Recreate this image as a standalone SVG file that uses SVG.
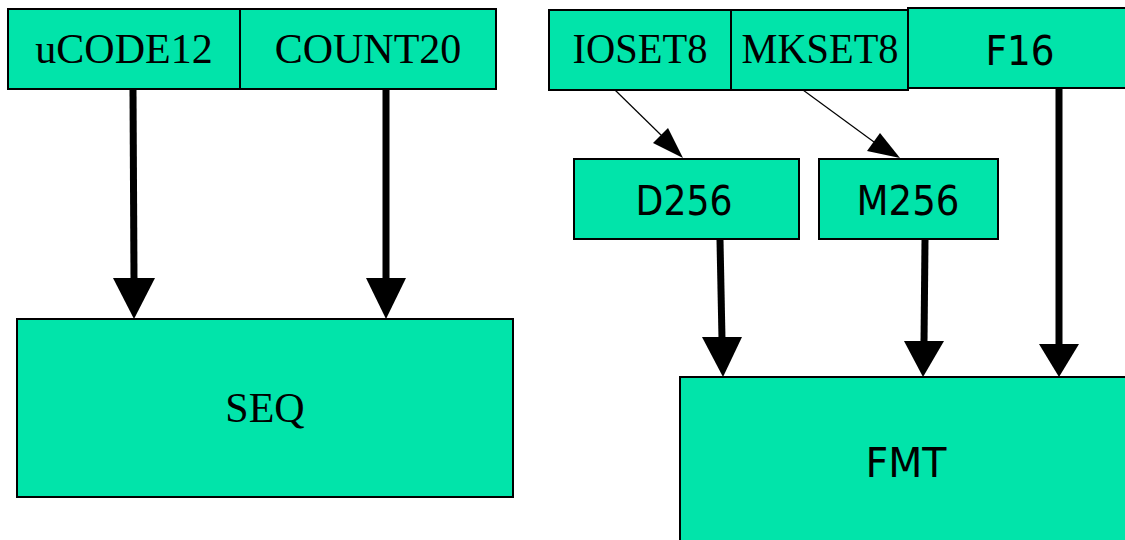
<svg xmlns="http://www.w3.org/2000/svg" width="1125" height="540" viewBox="0 0 1125 540">
<style>
.box{fill:#01E4AA;stroke:#000;stroke-width:2}
.serif{font-family:"Liberation Serif","Times New Roman",serif;font-size:42px;fill:#000;text-anchor:middle}
.sans{font-family:"DejaVu Sans",Verdana,sans-serif;font-size:41px;fill:#000;text-anchor:middle}
.thick{stroke:#000;stroke-width:7;fill:none}
.thin{stroke:#000;stroke-width:1.2;fill:none}
.head{fill:#000;stroke:none}
</style>
<rect width="1125" height="540" fill="#fff"/>
<g id="uCODE12"><rect class="box" x="8" y="9" width="232" height="80"/><text class="serif" x="124" y="63">uCODE12</text></g>
<g id="COUNT20"><rect class="box" x="240" y="9" width="256" height="80"/><text class="serif" x="368" y="63">COUNT20</text></g>
<g id="SEQ"><rect class="box" x="17" y="319" width="496" height="178"/><text class="serif" x="265" y="422">SEQ</text></g>
<g id="IOSET8"><rect class="box" x="549" y="10" width="182" height="80"/><text class="serif" x="640" y="63" textLength="135" lengthAdjust="spacingAndGlyphs">IOSET8</text></g>
<g id="MKSET8"><rect class="box" x="731" y="10" width="177" height="80"/><text class="serif" x="820" y="63" textLength="157" lengthAdjust="spacingAndGlyphs">MKSET8</text></g>
<g id="F16"><rect class="box" x="908" y="8" width="230" height="80"/><text class="sans" x="1020" y="65" textLength="69" lengthAdjust="spacingAndGlyphs">F16</text></g>
<g id="D256"><rect class="box" x="574" y="159" width="225" height="80"/><text class="sans" x="684" y="215" textLength="97" lengthAdjust="spacingAndGlyphs">D256</text></g>
<g id="M256"><rect class="box" x="819" y="159" width="179" height="80"/><text class="sans" x="908" y="215" textLength="103" lengthAdjust="spacingAndGlyphs">M256</text></g>
<g id="FMT"><rect class="box" x="680" y="377" width="460" height="180"/><text class="sans" x="906" y="477" textLength="81" lengthAdjust="spacingAndGlyphs">FMT</text></g>
<g id="connectors">
<path class="thick" d="M133 90 L134 280"/><polygon class="head" points="113,278 155,278 134,319"/>
<path class="thick" d="M386 90 L386 280"/><polygon class="head" points="366,278 406,278 386,319"/>
<path class="thick" d="M720 240 L722 339"/><polygon class="head" points="702,337 742,337 723,377"/>
<path class="thick" d="M925 240 L924 343"/><polygon class="head" points="904,341 944,341 923,377"/>
<path class="thick" d="M1059 89 L1059 346"/><polygon class="head" points="1039,344 1079,344 1059,377"/>
<path class="thin" d="M615 90 L662 136"/><polygon class="head" points="653,143 668,128 683,158"/>
<path class="thin" d="M803 90 L874 142"/><polygon class="head" points="867,151 880,133 900,158"/>
</g>
</svg>
